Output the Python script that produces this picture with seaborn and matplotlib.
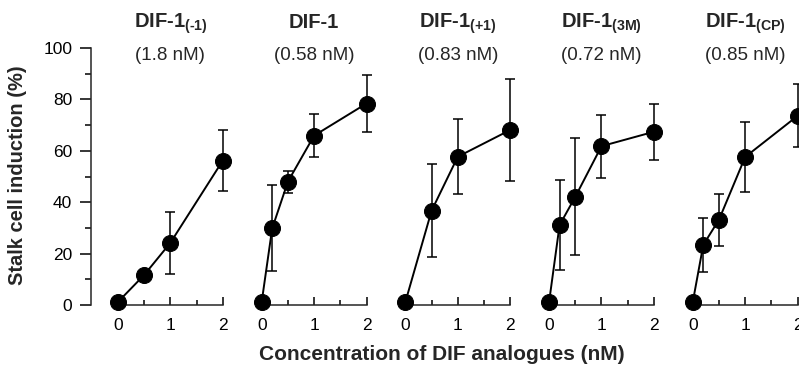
import numpy as np
import pandas as pd
import matplotlib
matplotlib.use("Agg")
import matplotlib.pyplot as plt
from matplotlib.ticker import MultipleLocator, FixedLocator
import seaborn as sns

# Data (mean stalk cell induction %, error bar half-length)
titles = ["DIF-1$_{\\mathbf{(\u20101)}}$", "DIF-1", "DIF-1$_{\\mathbf{(+1)}}$",
          "DIF-1$_{\\mathbf{(3M)}}$", "DIF-1$_{\\mathbf{(CP)}}$"]
ec50 = ["(1.8 nM)", "(0.58 nM)", "(0.83 nM)", "(0.72 nM)", "(0.85 nM)"]

conc_m1 = [0, 0.5, 1, 2]
mean_m1 = [1.2, 11.7, 24.2, 56.2]
err_m1 = [0, 0, 12.0, 11.7]

conc_dif1 = [0, 0.2, 0.5, 1, 2]
mean_dif1 = [1.2, 29.8, 48.0, 65.9, 78.4]
err_dif1 = [0, 16.7, 4.3, 8.3, 10.9]

conc_p1 = [0, 0.5, 1, 2]
mean_p1 = [1.2, 36.7, 57.7, 68.1]
err_p1 = [0, 18.1, 14.7, 19.9]

conc_3m = [0, 0.2, 0.5, 1, 2]
mean_3m = [1.2, 31.1, 42.1, 61.8, 67.4]
err_3m = [0, 17.6, 22.7, 12.2, 10.9]

conc_cp = [0, 0.2, 0.5, 1, 2]
mean_cp = [1.2, 23.4, 33.2, 57.6, 73.6]
err_cp = [0, 10.4, 10.1, 13.8, 12.3]

series = [(conc_m1, mean_m1, err_m1), (conc_dif1, mean_dif1, err_dif1),
          (conc_p1, mean_p1, err_p1), (conc_3m, mean_3m, err_3m),
          (conc_cp, mean_cp, err_cp)]

sns.set_style("ticks")
plt.rcParams['font.family'] = ['Liberation Sans', 'DejaVu Sans']
plt.rcParams['mathtext.fontset'] = 'custom'
plt.rcParams['mathtext.bf'] = 'Liberation Sans:bold'
plt.rcParams['mathtext.rm'] = 'Liberation Sans'

W, H = 799, 365
fig = plt.figure(figsize=(W / 100, H / 100), dpi=100)

unit = 52.4          # px per nM
x0_first = 118.0     # px of x=0 in first panel
step = 143.7         # px between panels
y_bot, y_top = 305.0, 48.0
xlo, xhi = -0.515, 2.1

for i, (conc, mean, err) in enumerate(series):
    x0 = x0_first + i * step
    left = x0 + xlo * unit
    width = (xhi - xlo) * unit
    ax = fig.add_axes([left / W, (H - y_bot) / H, width / W, (y_bot - y_top) / H])
    ax.patch.set_alpha(0)

    df = pd.DataFrame({"conc": conc, "mean": mean, "err": err})
    eb = df[df["err"] > 0]
    ax.errorbar(eb["conc"], eb["mean"], yerr=eb["err"], fmt='none', ecolor='black',
                elinewidth=1.1, capsize=3.5, capthick=1.1, zorder=1, clip_on=False)
    sns.lineplot(data=df, x="conc", y="mean", ax=ax, color='black', linewidth=1.4,
                 marker='o', markersize=11.5, markeredgecolor='black', clip_on=False,
                 zorder=3)

    ax.set_xlim(xlo, xhi)
    ax.set_ylim(0, 100)
    ax.set_xlabel("")
    ax.set_ylabel("")
    sns.despine(ax=ax)
    ax.spines['bottom'].set_bounds(0, 2)
    ax.spines['bottom'].set_linewidth(1.1)
    ax.xaxis.set_major_locator(FixedLocator([0, 1, 2]))
    ax.xaxis.set_minor_locator(FixedLocator([0.5, 1.5]))
    ax.tick_params(axis='x', which='major', direction='in', length=6, width=1.1,
                   labelsize=12.5, pad=9, color='black', labelcolor='black')
    ax.tick_params(axis='x', which='minor', direction='in', length=3.6, width=1.1,
                   color='black')

    if i == 0:
        ax.spines['left'].set_bounds(0, 100)
        ax.spines['left'].set_linewidth(1.1)
        ax.yaxis.set_major_locator(MultipleLocator(20))
        ax.yaxis.set_minor_locator(MultipleLocator(10))
        ax.tick_params(axis='y', which='major', direction='out', length=8, width=1.1,
                       labelsize=12.5, pad=5.5, color='black', labelcolor='black')
        ax.tick_params(axis='y', which='minor', direction='out', length=4, width=1.1,
                       color='black')
    else:
        ax.spines['left'].set_visible(False)
        ax.tick_params(axis='y', which='both', left=False, labelleft=False)

    ax.annotate(titles[i], xy=(1, (y_bot - 28) / (y_bot - y_top)),
                xycoords=('data', 'axes fraction'), ha='center', va='baseline',
                fontsize=14.5, fontweight='bold', annotation_clip=False)
    ax.annotate(ec50[i], xy=(1, (y_bot - 56) / (y_bot - y_top)),
                xycoords=('data', 'axes fraction'), ha='center', va='center',
                fontsize=13.5, annotation_clip=False)

fig.text(442 / W, 1 - 355 / H, "Concentration of DIF analogues (nM)", ha='center',
         va='center', fontsize=15, fontweight='bold')
fig.text(18 / W, 1 - 175 / H, "Stalk cell induction (%)", ha='center', va='center',
         rotation=90, fontsize=14.5, fontweight='bold')

fig.savefig("out.png", dpi=100)
